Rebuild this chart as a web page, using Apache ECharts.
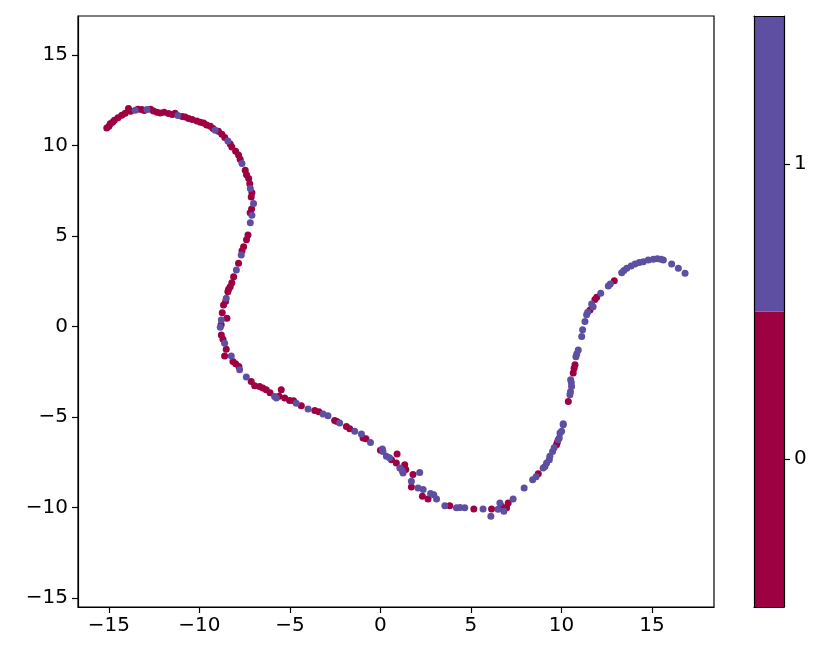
<!DOCTYPE html>
<html>
<head>
<meta charset="utf-8">
<script src="https://cdn.jsdelivr.net/npm/echarts@6/dist/echarts.min.js"></script>
<style>
  html, body { margin: 0; padding: 0; background: #fff; }
  #chart { width: 830px; height: 662px; }
</style>
</head>
<body>
<div id="chart"></div>
<script>
// klasse 0 (rot) und klasse 1 (lila), punkte [x, y]
var class0Points = [
  [-15.12,10.98],[-15.0,11.08],[-14.93,11.22],[-14.8,11.3],[-14.7,11.41],[-14.5,11.55],[-14.29,11.68],[-14.1,11.8],
  [-13.92,12.05],[-13.8,11.9],[-13.4,12.02],[-13.19,12.0],[-13.05,11.95],[-12.7,12.02],[-12.54,11.92],[-12.35,11.85],
  [-12.17,11.81],[-11.95,11.85],[-11.71,11.78],[-11.5,11.72],[-11.35,11.8],[-10.95,11.62],[-10.79,11.59],[-10.6,11.5],
  [-10.4,11.45],[-10.14,11.37],[-9.95,11.3],[-9.77,11.26],[-9.6,11.15],[-9.4,11.08],[-9.25,10.95],[-8.95,10.8],
  [-8.76,10.63],[-8.6,10.45],[-8.3,10.1],[-8.21,9.93],[-8.0,9.7],[-7.84,9.48],[-7.75,9.25],[-7.47,8.65],[-7.4,8.4],
  [-7.28,8.19],[-7.22,7.9],[-7.14,7.17],[-7.1,7.4],[-7.12,6.5],[-7.2,6.3],[-7.32,5.06],[-7.4,4.8],[-7.56,4.42],
  [-7.65,4.2],[-7.84,3.5],[-8.11,2.76],[-8.21,2.43],[-8.3,2.2],[-8.39,2.06],[-8.43,1.93],[-8.55,1.4],[-8.67,1.2],
  [-8.74,0.77],[-8.48,0.46],[-8.8,0.1],[-8.79,-0.46],[-8.7,-0.7],[-8.52,-1.25],[-8.61,-1.62],[-8.15,-1.93],[-8.0,-2.05],
  [-7.82,-2.21],[-7.14,-3.04],[-6.95,-3.27],[-6.68,-3.31],[-6.5,-3.4],[-6.31,-3.49],[-6.1,-3.65],[-5.48,-3.49],
  [-5.6,-3.85],[-5.29,-3.95],[-5.02,-4.08],[-4.8,-4.1],[-4.37,-4.38],[-3.63,-4.64],[-3.4,-4.7],[-2.53,-5.19],
  [-2.4,-5.25],[-1.88,-5.52],[-1.7,-5.65],[-0.96,-6.16],[-0.8,-6.2],[0.0,-6.84],[0.61,-7.36],[0.92,-7.04],
  [0.88,-7.54],[1.34,-7.63],[1.4,-7.9],[1.8,-8.18],[1.71,-8.86],[2.32,-9.38],[2.63,-9.53],[3.83,-9.9],
  [5.16,-10.08],[6.14,-10.08],[6.69,-9.93],[6.97,-10.02],[7.06,-9.75],[8.72,-8.13],[9.73,-6.53],[9.77,-6.4],
  [10.38,-4.14],[10.65,-2.57],[10.75,-2.11],[10.7,-2.3],[11.58,0.92],[11.95,1.62],[11.85,1.5],[12.92,2.54]
];
var class1Points = [
  [-13.55,11.96],[-12.9,12.0],[-11.19,11.67],[-9.13,10.86],[-8.43,10.26],[-7.65,9.02],[-7.19,7.64],[-7.01,6.81],
  [-7.1,6.16],[-7.19,5.74],[-7.69,3.96],[-7.96,3.13],[-8.52,1.57],[-8.79,0.37],[-8.85,-0.03],[-8.61,-0.92],
  [-8.24,-1.62],[-7.78,-2.39],[-7.41,-2.79],[-5.85,-3.86],[-5.75,-3.95],[-4.65,-4.23],[-4.0,-4.56],[-3.17,-4.83],
  [-2.9,-4.93],[-2.25,-5.33],[-1.42,-5.79],[-1.05,-5.94],[-0.55,-6.4],[0.11,-6.77],[0.14,-6.9],[0.33,-7.17],
  [0.5,-7.25],[1.07,-7.81],[1.25,-8.09],[1.2,-7.95],[2.17,-8.06],[1.71,-8.55],[2.08,-8.92],[2.36,-9.01],
  [2.77,-9.23],[2.95,-9.3],[3.1,-9.53],[3.56,-9.9],[4.2,-10.02],[4.4,-10.0],[4.66,-10.02],[5.67,-10.08],
  [6.1,-10.49],[6.6,-9.75],[6.82,-10.21],[6.5,-10.1],[7.33,-9.53],[7.94,-8.92],[8.41,-8.46],[8.6,-8.3],
  [8.99,-7.81],[9.09,-7.73],[9.18,-7.54],[9.33,-7.36],[9.36,-7.17],[9.51,-6.9],[9.6,-6.7],[9.82,-6.25],
  [9.88,-6.16],[9.92,-5.88],[10.01,-5.79],[10.1,-5.42],[10.1,-5.37],[10.47,-3.77],[10.5,-3.6],[10.56,-3.31],
  [10.51,-2.94],[10.55,-3.1],[10.8,-1.66],[10.85,-1.5],[10.93,-1.29],[11.12,-0.55],[11.17,-0.18],[11.3,0.28],
  [11.39,0.65],[11.45,0.8],[11.67,1.25],[11.75,1.1],[12.17,1.84],[12.59,2.25],[12.7,2.35],[13.33,2.98],
  [13.45,3.1],[13.61,3.22],[13.85,3.35],[14.07,3.46],[14.3,3.55],[14.52,3.59],[14.8,3.68],[15.08,3.72],
  [15.3,3.75],[15.5,3.72],[15.63,3.68],[16.09,3.46],[16.46,3.22],[16.83,2.95]
];
var xTicks = [-15, -10, -5, 0, 5, 10, 15];
var yTicks = [-15, -10, -5, 0, 5, 10, 15];
var cbarTicks = [0, 1];
var cbarBounds = [-0.5, 0.5, 1.5];

var RED = '#9e0142', PURPLE = '#5e4fa2';
var font = 'DejaVu Sans';

var chart = echarts.init(document.getElementById('chart'));

function tickAxis(ticks, extra) {
  var ax = {
    z: 10,
    axisLine: { show: true, onZero: false, lineStyle: { color: '#000', width: 1.2 } },
    axisTick: { show: true, length: 6, inside: false, customValues: ticks, lineStyle: { color: '#000', width: 1.2 } },
    axisLabel: { customValues: ticks, color: '#000', fontFamily: font, fontSize: 20,
      formatter: function (v) { return String(v).replace('-', '\u2212'); } },
    splitLine: { show: false }
  };
  for (var k in extra) ax[k] = extra[k];
  return ax;
}

// nur rahmenlinie, keine ticks
function frameAxis(extra) {
  var ax = { type: 'value', z: 10, axisLine: { show: true, onZero: false, lineStyle: { color: '#000', width: 1.2 } },
    axisTick: { show: false }, axisLabel: { show: false }, splitLine: { show: false } };
  for (var k in extra) ax[k] = extra[k];
  return ax;
}

var option = {
  animation: false,
  backgroundColor: '#fff',
  grid: [
    { left: 78, top: 16, width: 636, height: 591, show: true, borderColor: '#000', borderWidth: 1.2 },
    { left: 754, top: 16, width: 30, height: 591 }
  ],
  xAxis: [
    tickAxis(xTicks, { type: 'value', gridIndex: 0, min: -16.71, max: 18.43 }),
    frameAxis({ gridIndex: 1, min: 0, max: 1, position: 'bottom' }),
    frameAxis({ gridIndex: 1, min: 0, max: 1, position: 'top' })
  ],
  yAxis: [
    tickAxis(yTicks, { type: 'value', gridIndex: 0, min: -15.5, max: 17.17 }),
    tickAxis(cbarTicks, { type: 'value', gridIndex: 1, min: cbarBounds[0], max: cbarBounds[2], position: 'right' }),
    frameAxis({ gridIndex: 1, min: cbarBounds[0], max: cbarBounds[2], position: 'left' })
  ],
  series: [
    { type: 'scatter', xAxisIndex: 0, yAxisIndex: 0, symbolSize: 7, data: class0Points,
      itemStyle: { color: RED, opacity: 1 } },
    { type: 'scatter', xAxisIndex: 0, yAxisIndex: 0, symbolSize: 7, data: class1Points,
      itemStyle: { color: PURPLE, opacity: 1 } },
    // farbskala
    { type: 'line', xAxisIndex: 1, yAxisIndex: 1, data: [], silent: true, z: 1,
      markArea: { silent: true, data: [
        [{ yAxis: cbarBounds[0], xAxis: 0, itemStyle: { color: RED } }, { yAxis: cbarBounds[1], xAxis: 1 }],
        [{ yAxis: cbarBounds[1], xAxis: 0, itemStyle: { color: PURPLE } }, { yAxis: cbarBounds[2], xAxis: 1 }]
      ] } }
  ]
};
option.yAxis[1].axisLabel.margin = 10;
option.yAxis[0].axisLabel.margin = 10;
option.xAxis[0].axisLabel.margin = 9;
chart.setOption(option);
</script>
</body>
</html>
